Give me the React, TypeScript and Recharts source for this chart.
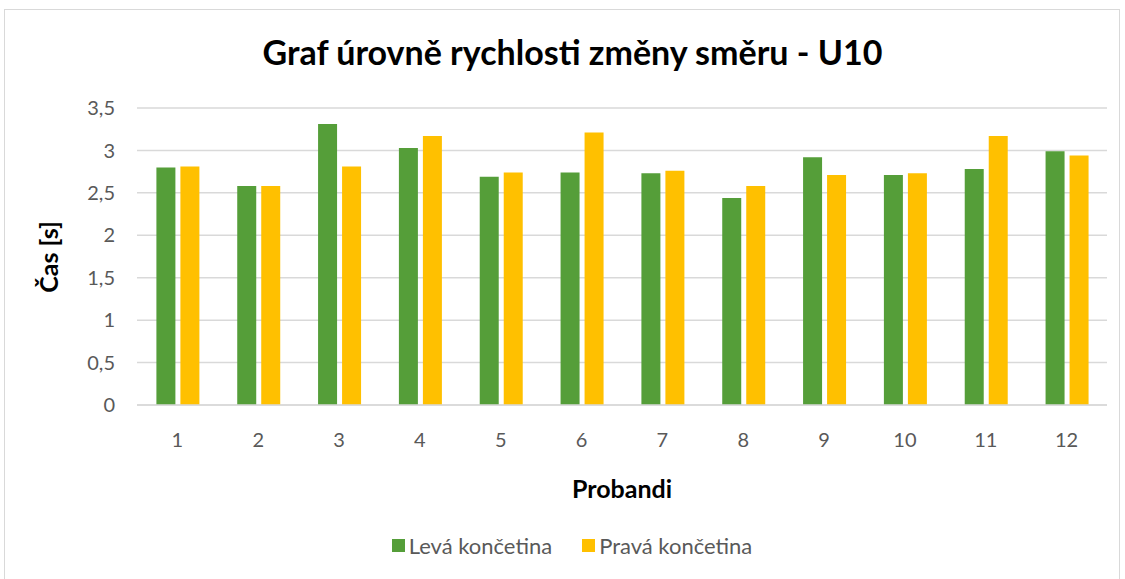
import React from 'react';
import { BarChart, Bar, XAxis, YAxis, CartesianGrid, Legend, Label } from 'recharts';

const categories = ['1', '2', '3', '4', '5', '6', '7', '8', '9', '10', '11', '12'];
const levaValues = [2.8, 2.58, 3.31, 3.03, 2.69, 2.74, 2.73, 2.44, 2.92, 2.71, 2.78, 2.99];
const pravaValues = [2.81, 2.58, 2.81, 3.17, 2.74, 3.21, 2.76, 2.58, 2.71, 2.73, 3.17, 2.94];
const yTicks = [0, 0.5, 1, 1.5, 2, 2.5, 3, 3.5];

const data = categories.map((c, i) => ({ name: c, leva: levaValues[i], prava: pravaValues[i] }));

const FONT = 'Lato, "Open Sans", sans-serif';
const GRAY = '#595959';

const renderLegend = (props: any) => {
  const { payload } = props;
  return (
    <div style={{ display: 'flex', justifyContent: 'center', alignItems: 'center', fontFamily: FONT, fontSize: 22, color: GRAY }}>
      {(payload || []).map((entry: any, i: number) => (
        <div key={i} style={{ display: 'flex', alignItems: 'center', marginRight: i === 0 ? 30 : 0 }}>
          <span style={{ display: 'inline-block', width: 13, height: 13, background: entry.color, marginRight: 4 }} />
          <span>{entry.value}</span>
        </div>
      ))}
    </div>
  );
};

export default function App() {
  return (
    <div style={{ position: 'absolute', left: 0, top: 0, width: 1125, height: 579, background: '#fff', fontFamily: FONT }}>
      <div style={{ position: 'absolute', left: 4, top: 9, width: 1116, height: 575, border: '1px solid #d9d9d9', boxSizing: 'border-box' }} />
      <div style={{ position: 'absolute', left: 0, top: 31, width: 1145, textAlign: 'center', fontSize: 34, fontWeight: 700, color: '#000', lineHeight: '42px' }}>
        Graf úrovně rychlosti změny směru - U10
      </div>
      <div style={{ position: 'absolute', left: 48, top: 257, transform: 'translate(-50%, -50%) rotate(-90deg)', fontSize: 25, fontWeight: 700, color: '#000', whiteSpace: 'nowrap' }}>
        Čas [s]
      </div>
      <div style={{ position: 'absolute', left: 0, top: 0 }}>
        <BarChart width={1125} height={579} data={data} margin={{ top: 108, right: 18, bottom: 17, left: 37 }} barCategoryGap="24%" barGap={5}>
          <CartesianGrid vertical={false} stroke="#d9d9d9" strokeWidth={1.5} />
          <XAxis dataKey="name" height={127} tickLine={false} axisLine={{ stroke: '#d9d9d9', strokeWidth: 1.5 }} tick={{ fill: GRAY, fontSize: 20, fontFamily: FONT }} tickMargin={22}>
            <Label value="Probandi" position="insideBottom" offset={34} style={{ fill: '#000', fontSize: 25, fontWeight: 700, fontFamily: FONT }} />
          </XAxis>
          <YAxis width={100} domain={[0, 3.5]} ticks={yTicks} tickLine={false} axisLine={false} tickSize={0} tickMargin={22} tick={{ fill: GRAY, fontSize: 20, fontFamily: FONT }} tickFormatter={(v: number) => String(v).replace('.', ',')} />
          <Legend height={30} content={renderLegend} />
          <Bar dataKey="leva" name="Levá končetina" fill="#559E39" isAnimationActive={false} />
          <Bar dataKey="prava" name="Pravá končetina" fill="#FFC000" isAnimationActive={false} />
        </BarChart>
      </div>
    </div>
  );
}
